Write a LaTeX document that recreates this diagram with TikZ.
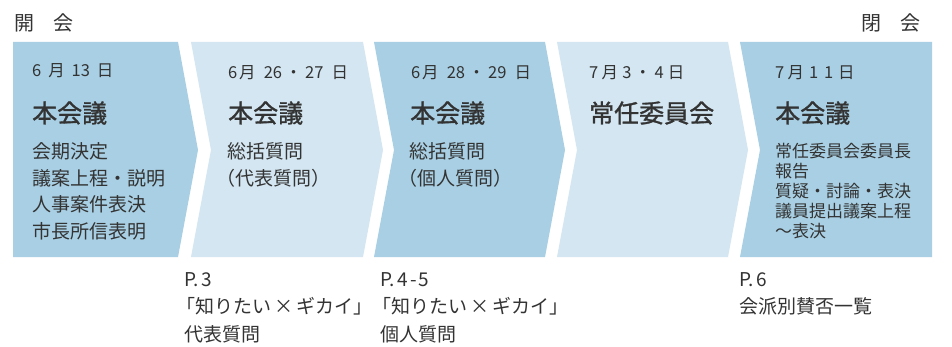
\documentclass[tikz,border=0pt]{standalone}
\usepackage{fontspec}
\setmainfont{Noto Sans CJK JP}
\newfontfamily\cjkmed[FakeBold=1.2]{Noto Sans CJK JP}
\definecolor{darkblue}{HTML}{A8CFE3}
\definecolor{lightblue}{HTML}{D3E6F1}
\definecolor{inkgray}{HTML}{333333}
\newcommand\gapx[1]{\hspace{#1em}}
\begin{document}
\begin{tikzpicture}[x=1pt,y=-1pt,
  txt/.style={inner sep=0pt, text=inkgray},
  head/.style={txt, anchor=west, font=\fontsize{20}{20}\selectfont},
  datetxt/.style={txt, anchor=west, font=\fontsize{16.5}{16.5}\selectfont},
  titletxt/.style={txt, anchor=west, font=\cjkmed\fontsize{25}{25}\selectfont},
  bodytxt/.style={txt, anchor=north west, align=left, font=\fontsize{19}{26.5}\selectfont},
  smallbody/.style={txt, anchor=north west, align=left, font=\fontsize{17}{19.8}\selectfont},
  notetxt/.style={txt, anchor=north west, align=left, font=\fontsize{19}{27.5}\selectfont},
  darkshape/.style={fill=darkblue, draw=none},
  lightshape/.style={fill=lightblue, draw=none}
]
\useasboundingbox (0,0) rectangle (952,347);
\fill[white] (0,0) rectangle (952,347);

% chevron shapes
\fill[darkshape]  (13,42) -- (178,42) -- (198,150) -- (178,257) -- (13,257) -- cycle;
\fill[lightshape] (191,42) -- (363,42) -- (383,150) -- (363,257) -- (191,257) -- (211,150) -- cycle;
\fill[darkshape]  (374,42) -- (545,42) -- (565,150) -- (545,257) -- (374,257) -- (394,150) -- cycle;
\fill[lightshape] (557,42) -- (728,42) -- (748,150) -- (728,257) -- (557,257) -- (577,150) -- cycle;
\fill[darkshape]  (740,42) -- (932,42) -- (932,257) -- (740,257) -- (760,150) -- cycle;

% header
\node[head] (open) at (14,23) {開\hspace{0.95em}会};
\node[head] (close) at (861,23) {閉\hspace{0.95em}会};

% column 1
\node[datetxt] (d1) at (32,71) {6\gapx{.42}月\gapx{.42}13\gapx{.42}日};
\node[titletxt] (t1) at (32,113) {本会議};
\node[bodytxt] (b1) at (32,142.5) {会期決定\\議案上程・説明\\人事案件表決\\市長所信表明};

% column 2
\node[datetxt] (d2) at (228,73) {6\gapx{.1}月\gapx{.5}26\gapx{.2}・\gapx{.2}27\gapx{.5}日};
\node[titletxt] (t2) at (228,113) {本会議};
\node[bodytxt] (b2) at (227,142.5) {総括質問\\\hspace*{-0.55em}（代表質問）};

% column 3
\node[datetxt] (d3) at (411,73) {6\gapx{.1}月\gapx{.5}28\gapx{.2}・\gapx{.2}29\gapx{.5}日};
\node[titletxt] (t3) at (410,113) {本会議};
\node[bodytxt] (b3) at (409,142.5) {総括質問\\\hspace*{-0.55em}（個人質問）};

% column 4
\node[datetxt] (d4) at (589,73) {7\gapx{.2}月\gapx{.25}3\gapx{.2}・\gapx{.2}4\gapx{.25}日};
\node[titletxt] (t4) at (589,113) {常任委員会};

% column 5
\node[datetxt] (d5) at (775,73) {7\gapx{.2}月\gapx{.3}1\gapx{.35}1\gapx{.3}日};
\node[titletxt] (t5) at (775,113) {本会議};
\node[smallbody] (b5) at (775,143.5) {常任委員会委員長\\報告\\質疑・討論・表決\\議員提出議案上程\\～表決};

% notes below
\node[notetxt] (n1) at (184,272) {P.\gapx{.15}3\\\hspace*{-0.4em}「知りたい\gapx{.15}×\gapx{.15}ギカイ」\\代表質問};
\node[notetxt] (n2) at (380,272) {P.\gapx{.15}4\gapx{.1}-\gapx{.1}5\\\hspace*{-0.4em}「知りたい\gapx{.15}×\gapx{.15}ギカイ」\\個人質問};
\node[notetxt] (n3) at (739,272) {P.\gapx{.15}6\\会派別賛否一覧};
\end{tikzpicture}
\end{document}
